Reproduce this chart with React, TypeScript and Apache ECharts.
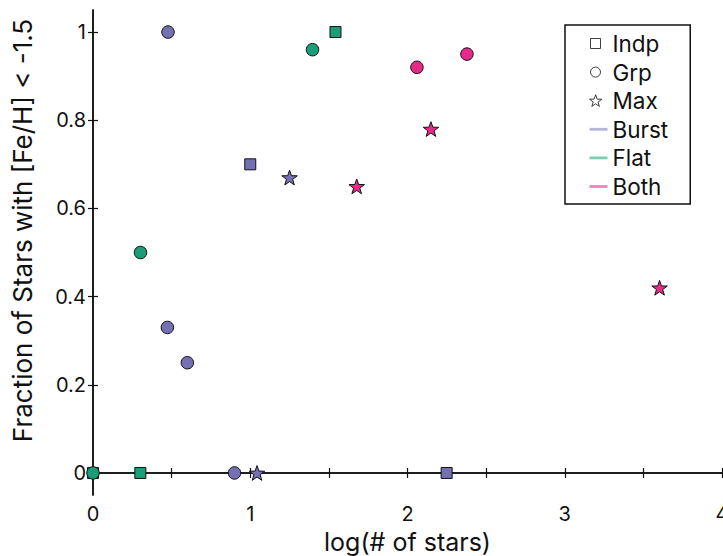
import React, { useEffect, useRef } from "react";
import * as echarts from "echarts";

// Point sets: x = log10(number of stars), y = fraction with [Fe/H] < -1.5
const burstIndpX = [1.0, 2.249];
const burstIndpY = [0.7, 0];
const burstGrpX = [0.477, 0.473, 0.6, 0.9];
const burstGrpY = [1, 0.33, 0.25, 0];
const burstMaxX = [1.25, 1.043];
const burstMaxY = [0.67, 0];

const flatIndpX = [1.542, 0.301, 0];
const flatIndpY = [1, 0, 0];
const flatGrpX = [1.396, 0.302, 0];
const flatGrpY = [0.96, 0.5, 0];

const bothGrpX = [2.06, 2.378];
const bothGrpY = [0.92, 0.95];
const bothMaxX = [2.149, 1.677, 3.603];
const bothMaxY = [0.78, 0.65, 0.42];

const xTickValues = [0, 0.5, 1, 1.5, 2, 2.5, 3, 3.5, 4];
const xLabelValues = [0, 1, 2, 3, 4];
const yTickValues = [0, 0.2, 0.4, 0.6, 0.8, 1];

const shapeNames = ["Indp", "Grp", "Max"];
const groupNames = ["Burst", "Flat", "Both"] as const;

const COLORS = { Burst: "#7570b3", Flat: "#1b9e77", Both: "#e7298a" };
const LEGEND_LINE_COLORS = { Burst: "#a5a2d2", Flat: "#5cc09f", Both: "#ee63aa" };

const STAR =
  "path://M50,0 L61.75,33.8 L97.55,34.55 L69,56.2 L79.4,90.45 L50,70 L20.6,90.45 L31,56.2 L2.45,34.55 L38.25,33.8 Z";
const SHAPES: Record<string, { symbol: string; size: number }> = {
  Indp: { symbol: "rect", size: 11 },
  Grp: { symbol: "circle", size: 12.5 },
  Max: { symbol: STAR, size: 15.5 },
};

// Legend icons sit in an 18x12 box; the zero-length moves pin the box corners
const BOX = " M0,0 L0,0 M18,12 L18,12";
const LEGEND_ICONS: Record<string, string> = {
  Indp: "path://M1,1 L11,1 L11,11 L1,11 Z" + BOX,
  Grp: "path://M1,6 A5,5 0 1 1 11,6 A5,5 0 1 1 1,6 Z" + BOX,
  Max:
    "path://M6,0 L7.53,4.39 L12.18,4.49 L8.47,7.31 L9.82,11.76 L6,9.1 L2.18,11.76 L3.53,7.31 L-0.18,4.49 L4.47,4.39 Z" +
    BOX,
  Line: "path://M0,4.6 L18,4.6 L18,7.4 L0,7.4 Z" + BOX,
};

const FONT = "Inter";

function pts(xs: number[], ys: number[]) {
  return xs.map((x, i) => [x, ys[i]]);
}

function markSeries(group: "Burst" | "Flat" | "Both", kind: string, xs: number[], ys: number[]) {
  return {
    name: `${group} ${kind}`,
    type: "scatter",
    clip: false,
    symbol: SHAPES[kind].symbol,
    symbolSize: SHAPES[kind].size,
    symbolKeepAspect: true,
    itemStyle: { color: COLORS[group], borderColor: "#111", borderWidth: 1, opacity: 1 },
    data: pts(xs, ys),
    z: 3,
  };
}

export default function App() {
  const ref = useRef<HTMLDivElement>(null);

  useEffect(() => {
    if (!ref.current) return;
    const chart = echarts.init(ref.current, undefined, { renderer: "svg" });

    const axisLine = { show: true, lineStyle: { color: "#111", width: 1.5 } };
    const tickStyle = { lineStyle: { color: "#111", width: 1.2 } };

    const legendData = [
      ...shapeNames.map((k) => ({
        name: k,
        icon: LEGEND_ICONS[k],
        itemStyle: { color: "#fff", borderColor: "#111", borderWidth: 1 },
      })),
      ...groupNames.map((g) => ({
        name: g,
        icon: LEGEND_ICONS.Line,
        itemStyle: { color: LEGEND_LINE_COLORS[g], borderWidth: 0 },
      })),
    ];

    // Empty series that only carry the legend entries
    const legendSeries = [...shapeNames, ...groupNames].map((n) => ({
      name: n,
      type: "scatter",
      itemStyle: { color: (LEGEND_LINE_COLORS as any)[n] || "#fff" },
      data: [],
    }));

    chart.setOption({
      animation: false,
      backgroundColor: "#fff",
      textStyle: { fontFamily: FONT },
      grid: {
        left: 93,
        right: 1,
        top: 10,
        bottom: 61,
        containLabel: false,
        outerBoundsMode: "none",
      },
      legend: {
        data: legendData,
        orient: "vertical",
        left: 565,
        top: 25,
        selectedMode: false,
        backgroundColor: "#fff",
        borderColor: "#111",
        borderWidth: 1.5,
        borderRadius: 0,
        padding: [7, 22, 6, 24],
        itemGap: 5.6,
        itemWidth: 18,
        itemHeight: 12,
        textStyle: { fontFamily: FONT, fontSize: 22.5, lineHeight: 20.8, color: "#111" },
      },
      xAxis: [
        {
          type: "value",
          min: 0,
          max: 4,
          name: "log(# of stars)",
          nameLocation: "middle",
          nameGap: 34,
          nameTextStyle: { fontFamily: FONT, fontSize: 25, color: "#111" },
          axisLine,
          axisTick: { show: true, inside: true, length: 5, customValues: xTickValues, ...tickStyle },
          axisLabel: {
            customValues: xLabelValues,
            fontFamily: FONT,
            fontSize: 20,
            color: "#111",
            margin: 9,
            formatter: (v: number) => String(v),
          },
          splitLine: { show: false },
        },
        {
          type: "value",
          position: "top",
          min: 0,
          max: 4,
          axisLine,
          axisTick: { show: true, inside: true, length: 5, customValues: xTickValues, ...tickStyle },
          axisLabel: { show: false },
          splitLine: { show: false },
        },
      ],
      yAxis: [
        {
          type: "value",
          min: -0.05,
          max: 1.05,
          name: "Fraction of Stars with [Fe/H] < -1.5",
          nameLocation: "middle",
          nameGap: 58,
          nameTextStyle: { fontFamily: FONT, fontSize: 26, color: "#111", padding: [0, 0, 0, 44] },
          axisLine,
          axisTick: { show: true, inside: true, length: 5, customValues: yTickValues, ...tickStyle },
          axisLabel: {
            customValues: yTickValues,
            fontFamily: FONT,
            fontSize: 20,
            color: "#111",
            margin: 7,
            formatter: (v: number) => String(v),
          },
          splitLine: { show: false },
        },
        {
          type: "value",
          position: "right",
          min: -0.05,
          max: 1.05,
          axisLine,
          axisTick: { show: true, inside: true, length: 5, customValues: yTickValues, ...tickStyle },
          axisLabel: { show: false },
          splitLine: { show: false },
        },
      ],
      series: [
        ...legendSeries,
        markSeries("Burst", "Indp", burstIndpX, burstIndpY),
        markSeries("Burst", "Grp", burstGrpX, burstGrpY),
        markSeries("Burst", "Max", burstMaxX, burstMaxY),
        markSeries("Flat", "Indp", flatIndpX, flatIndpY),
        markSeries("Flat", "Grp", flatGrpX, flatGrpY),
        markSeries("Both", "Grp", bothGrpX, bothGrpY),
        markSeries("Both", "Max", bothMaxX, bothMaxY),
      ],
    });

    return () => chart.dispose();
  }, []);

  return (
    <div
      ref={ref}
      style={{ position: "fixed", left: 0, top: 0, width: 723, height: 556, background: "#fff" }}
    />
  );
}
